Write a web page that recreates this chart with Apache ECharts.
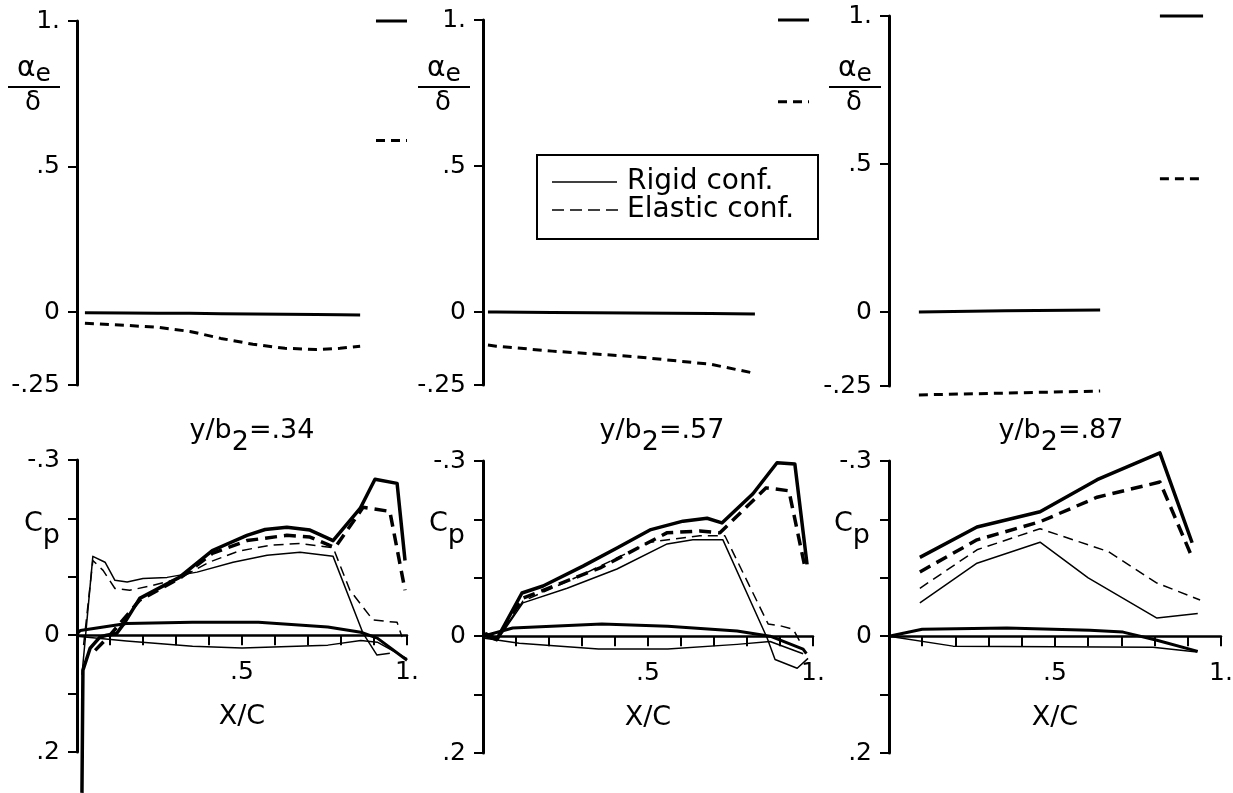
<!DOCTYPE html>
<html>
<head>
<meta charset="utf-8">
<title>alpha_e / delta and Cp at three span stations</title>
<script src="https://cdn.jsdelivr.net/npm/echarts@6/dist/echarts.min.js"></script>
<style>
  html, body { margin: 0; padding: 0; background: #fff; }
  #chart { width: 1233px; height: 793px; }
</style>
</head>
<body>
<div id="chart"></div>
<script>
// ---- tick values / labels ----
const alphaTicks = [-0.25, 0, 0.5, 1];
const alphaTickLabels = ["-.25", "0", ".5", "1."];
const cpTicks = [-0.3, -0.2, -0.1, 0, 0.1, 0.2];
const cpTickLabels = ["-.3", "", "", "0", "", ".2"];
const xcTicks = [0, 0.1, 0.2, 0.3, 0.4, 0.5, 0.6, 0.7, 0.8, 0.9, 1];
const xcLabelValues = [0.5, 1];
const xcLabels = [".5", "1."];
const stations = ["y/b2=.34", "y/b2=.57", "y/b2=.87"];

// ---- alpha_e / delta (upper panels) ----
const alphaX34 = [0.024, 0.148, 0.245, 0.342, 0.436, 0.533, 0.63, 0.724, 0.797, 0.858];
const alphaRigid34 = [-0.002, -0.003, -0.004, -0.004, -0.005, -0.006, -0.007, -0.008, -0.009, -0.01];
const alphaElastic34 = [-0.038, -0.045, -0.052, -0.066, -0.09, -0.11, -0.124, -0.128, -0.124, -0.117];
const flapX34 = [0.906, 1.0];
const flapRigid34 = [1, 1];
const flapElastic34 = [0.59, 0.59];

const alphaX57 = [0.015, 0.04, 0.21, 0.45, 0.69, 0.824];
const alphaRigid57 = [0, 0, -0.002, -0.003, -0.005, -0.007];
const alphaElastic57 = [-0.113, -0.117, -0.134, -0.152, -0.179, -0.21];
const flapX57 = [0.894, 0.988];
const flapRigid57 = [1, 1];
const flapElastic57 = [0.72, 0.72];

const alphaX87 = [0.09, 0.35, 0.636];
const alphaRigid87 = [0, 0.004, 0.007];
const alphaElastic87 = [-0.28, -0.274, -0.267];
const flapX87 = [0.816, 0.946];
const flapRigid87 = [1, 1];
const flapElastic87 = [0.45, 0.45];

// ---- Cp (lower panels), [x/c, Cp] ----
const cpThickRigid34 = [[0.015, 0.27], [0.018, 0.06], [0.04, 0.022], [0.07, 0.003], [0.09, 0], [0.12, -0.003], [0.145, -0.022], [0.19, -0.063], [0.31, -0.099], [0.41, -0.145], [0.515, -0.171], [0.57, -0.181], [0.636, -0.185], [0.706, -0.18], [0.776, -0.162], [0.858, -0.217], [0.903, -0.267], [0.97, -0.26], [0.994, -0.128]];
const cpThickElastic34 = [[0.055, 0.026], [0.1, 0], [0.19, -0.06], [0.31, -0.097], [0.41, -0.14], [0.515, -0.162], [0.636, -0.171], [0.706, -0.168], [0.782, -0.15], [0.867, -0.219], [0.948, -0.212], [0.994, -0.077]];
const cpThinRigid34 = [[0.015, 0.068], [0.048, -0.135], [0.085, -0.125], [0.115, -0.094], [0.152, -0.091], [0.2, -0.097], [0.273, -0.099], [0.364, -0.108], [0.473, -0.125], [0.576, -0.137], [0.676, -0.142], [0.776, -0.135], [0.867, -0.003], [0.909, 0.034], [0.948, 0.031]];
const cpThinElastic34 = [[0.02, 0.017], [0.048, -0.128], [0.079, -0.111], [0.115, -0.08], [0.16, -0.077], [0.22, -0.084], [0.31, -0.097], [0.4, -0.125], [0.49, -0.144], [0.585, -0.154], [0.676, -0.157], [0.776, -0.15], [0.827, -0.077], [0.897, -0.026], [0.97, -0.022], [0.985, 0.003]];
const foilUpper34 = [[0, -0.002], [0.01, -0.008], [0.15, -0.02], [0.35, -0.022], [0.55, -0.022], [0.76, -0.014], [0.86, -0.005], [0.91, 0.005], [1.0, 0.043]];
const foilLower34 = [[0, 0.002], [0.15, 0.01], [0.35, 0.019], [0.5, 0.022], [0.76, 0.017], [0.86, 0.009], [0.91, 0.012], [1.0, 0.04]];

const cpThickRigid57 = [[0.006, -0.005], [0.042, 0.005], [0.118, -0.074], [0.182, -0.086], [0.303, -0.12], [0.406, -0.151], [0.506, -0.182], [0.606, -0.197], [0.679, -0.202], [0.724, -0.194], [0.818, -0.244], [0.891, -0.297], [0.945, -0.295], [0.982, -0.123]];
const cpThickElastic57 = [[0.02, 0], [0.042, 0.005], [0.121, -0.065], [0.355, -0.117], [0.557, -0.177], [0.657, -0.18], [0.718, -0.177], [0.858, -0.254], [0.927, -0.249], [0.976, -0.117]];
const cpThinRigid57 = [[0.006, 0], [0.042, 0.008], [0.121, -0.057], [0.255, -0.082], [0.406, -0.115], [0.558, -0.158], [0.636, -0.165], [0.727, -0.165], [0.861, 0.003], [0.885, 0.04], [0.952, 0.055], [0.985, 0.038]];
const cpThinElastic57 = [[0.01, 0], [0.042, 0.006], [0.121, -0.06], [0.303, -0.106], [0.506, -0.161], [0.657, -0.172], [0.733, -0.172], [0.864, -0.021], [0.9, -0.018], [0.94, -0.012], [0.96, 0.009]];
const foilUpper57 = [[0, 0], [0.09, -0.014], [0.36, -0.021], [0.56, -0.017], [0.77, -0.009], [0.87, 0], [0.97, 0.022], [0.98, 0.03]];
const foilLower57 = [[0, 0.003], [0.11, 0.012], [0.35, 0.022], [0.56, 0.022], [0.77, 0.014], [0.87, 0.009], [0.97, 0.03]];

const cpThickRigid87 = [[0.093, -0.135], [0.265, -0.187], [0.455, -0.213], [0.627, -0.268], [0.816, -0.314], [0.913, -0.16]];
const cpThickElastic87 = [[0.093, -0.11], [0.265, -0.165], [0.455, -0.196], [0.627, -0.238], [0.816, -0.264], [0.913, -0.135]];
const cpThinRigid87 = [[0.093, -0.057], [0.265, -0.125], [0.455, -0.161], [0.6, -0.1], [0.807, -0.031], [0.93, -0.039]];
const cpThinElastic87 = [[0.093, -0.082], [0.265, -0.148], [0.455, -0.184], [0.66, -0.145], [0.807, -0.091], [0.937, -0.062]];
const foilUpper87 = [[0, 0], [0.1, -0.012], [0.355, -0.014], [0.605, -0.01], [0.705, -0.007], [0.807, 0.007], [0.93, 0.026]];
const foilLower87 = [[0, 0], [0.193, 0.017], [0.795, 0.019], [0.928, 0.027]];

const FONT = "DejaVu Sans";
const INK = "#000";

// 线型
const styles = {
  thickSolid: { width: 3.5, type: "solid" },
  thickDash: { width: 3.5, type: [12, 7] },
  thinSolid: { width: 1.5, type: "solid" },
  thinDash: { width: 1.5, type: [10, 6] },
  topSolid: { width: 3, type: "solid" },
  topDash: { width: 3, type: [9, 6] },
  foilUpper: { width: 3, type: "solid" },
  foilLower: { width: 1.5, type: "solid" },
};

function zip(xs, ys) {
  return xs.map((x, i) => [x, ys[i]]);
}

function pick(values, labels) {
  return function (v) {
    for (let i = 0; i < values.length; i++) {
      if (Math.abs(values[i] - v) < 1e-6) return labels[i];
    }
    return "";
  };
}

// 面板位置 (px)
const columns = [
  { left: 77, width: 330, topTop: 21, topBottom: 385, cpTop: 460, cpBottom: 752 },
  { left: 483, width: 330, topTop: 20, topBottom: 385, cpTop: 461, cpBottom: 753 },
  { left: 889, width: 332, topTop: 16, topBottom: 386, cpTop: 461, cpBottom: 753 },
];

const grids = [];
const xAxes = [];
const yAxes = [];
columns.forEach((c) => {
  grids.push({ left: c.left, top: c.topTop, width: c.width, height: c.topBottom - c.topTop, containLabel: false, outerBoundsMode: "none" });
  grids.push({ left: c.left, top: c.cpTop, width: c.width, height: c.cpBottom - c.cpTop, containLabel: false, outerBoundsMode: "none" });
});

const axisLabelStyle = { color: INK, fontSize: 25, fontFamily: FONT };

columns.forEach((c, i) => {
  // 从底边上移到 Cp = 0 的位置
  const h = c.cpBottom - c.cpTop;
  const zeroShift = -(h * 0.2 / 0.5);

  // upper panel
  xAxes.push({ gridIndex: 2 * i, type: "value", min: 0, max: 1, show: false });
  yAxes.push({
    gridIndex: 2 * i, type: "value", min: -0.25, max: 1,
    axisLine: { show: true, lineStyle: { color: INK, width: 3 } },
    axisTick: { show: true, length: 9, customValues: alphaTicks, lineStyle: { color: INK, width: 2 } },
    axisLabel: Object.assign({ customValues: alphaTicks, formatter: pick(alphaTicks, alphaTickLabels), margin: 17 }, axisLabelStyle),
    splitLine: { show: false },
  });
  // lower panel
  xAxes.push({
    gridIndex: 2 * i + 1, type: "value", min: 0, max: 1,
    position: "bottom", offset: zeroShift,
    axisLine: { show: true, onZero: false, lineStyle: { color: INK, width: 2.5 } },
    axisTick: { show: true, length: 10, customValues: xcTicks, lineStyle: { color: INK, width: 2 } },
    axisLabel: Object.assign({ customValues: xcLabelValues, formatter: pick(xcLabelValues, xcLabels), margin: 25 }, axisLabelStyle),
    splitLine: { show: false },
    name: "X/C", nameLocation: "middle", nameGap: 68,
    nameTextStyle: { color: INK, fontSize: 27, fontFamily: FONT },
  });
  yAxes.push({
    gridIndex: 2 * i + 1, type: "value", min: -0.3, max: 0.2, inverse: true,
    axisLine: { show: true, onZero: false, lineStyle: { color: INK, width: 3 } },
    axisTick: { show: true, length: 9, customValues: cpTicks, lineStyle: { color: INK, width: 2 } },
    axisLabel: Object.assign({ customValues: cpTicks, formatter: pick(cpTicks, cpTickLabels), margin: 17 }, axisLabelStyle),
    splitLine: { show: false },
  });
});

function line(axisIndex, data, kind) {
  return {
    type: "line",
    xAxisIndex: axisIndex,
    yAxisIndex: axisIndex,
    data: data,
    showSymbol: false,
    symbol: "none",
    clip: false,
    silent: true,
    lineStyle: Object.assign({ color: INK, cap: "butt", join: "round" }, styles[kind]),
  };
}

const series = [
  // y/b2 = .34
  line(0, zip(alphaX34, alphaRigid34), "topSolid"),
  line(0, zip(alphaX34, alphaElastic34), "topDash"),
  line(0, zip(flapX34, flapRigid34), "topSolid"),
  line(0, zip(flapX34, flapElastic34), "topDash"),
  line(1, cpThickRigid34, "thickSolid"),
  line(1, cpThickElastic34, "thickDash"),
  line(1, cpThinRigid34, "thinSolid"),
  line(1, cpThinElastic34, "thinDash"),
  line(1, foilUpper34, "foilUpper"),
  line(1, foilLower34, "foilLower"),
  // y/b2 = .57
  line(2, zip(alphaX57, alphaRigid57), "topSolid"),
  line(2, zip(alphaX57, alphaElastic57), "topDash"),
  line(2, zip(flapX57, flapRigid57), "topSolid"),
  line(2, zip(flapX57, flapElastic57), "topDash"),
  line(3, cpThickRigid57, "thickSolid"),
  line(3, cpThickElastic57, "thickDash"),
  line(3, cpThinRigid57, "thinSolid"),
  line(3, cpThinElastic57, "thinDash"),
  line(3, foilUpper57, "foilUpper"),
  line(3, foilLower57, "foilLower"),
  // y/b2 = .87
  line(4, zip(alphaX87, alphaRigid87), "topSolid"),
  line(4, zip(alphaX87, alphaElastic87), "topDash"),
  line(4, zip(flapX87, flapRigid87), "topSolid"),
  line(4, zip(flapX87, flapElastic87), "topDash"),
  line(5, cpThickRigid87, "thickSolid"),
  line(5, cpThickElastic87, "thickDash"),
  line(5, cpThinRigid87, "thinSolid"),
  line(5, cpThinElastic87, "thinDash"),
  line(5, foilUpper87, "foilUpper"),
  line(5, foilLower87, "foilLower"),
];

// 文字: 分数 αe/δ, Cp, 截面标题, 图例
const rich = {
  n: { fontSize: 27, fontFamily: FONT, color: INK, verticalAlign: "top", lineHeight: 28 },
  s: { fontSize: 27, fontFamily: FONT, color: INK, verticalAlign: "top", lineHeight: 28, padding: [12, 0, 0, 0] },
  a: { fontSize: 28, fontFamily: FONT, color: INK, verticalAlign: "top", lineHeight: 28 },
  se: { fontSize: 25, fontFamily: FONT, color: INK, verticalAlign: "top", lineHeight: 26, padding: [7, 0, 0, 0] },
};

const graphic = [];
const fracCenters = [34, 444, 855];
fracCenters.forEach((cx) => {
  graphic.push({ type: "text", x: cx, y: 55, style: { text: "{a|α}{se|e}", rich: rich, textAlign: "center" } });
  graphic.push({ type: "line", shape: { x1: cx - 26, y1: 87, x2: cx + 26, y2: 87 }, style: { stroke: INK, lineWidth: 2 } });
  graphic.push({ type: "text", x: cx - 1, y: 90, style: { text: "δ", font: "26px " + FONT, fill: INK, textAlign: "center" } });
});

const cpLabelRight = [60, 465, 870];
cpLabelRight.forEach((rx) => {
  graphic.push({ type: "text", x: rx, y: 510, style: { text: "{n|C}{s|p}", rich: rich, textAlign: "right" } });
});

const titleCenters = [252, 662, 1061];
stations.forEach((s, i) => {
  const parts = s.split("2");
  graphic.push({
    type: "text", x: titleCenters[i], y: 417,
    style: { text: "{n|" + parts[0] + "}{s|2}{n|" + parts[1] + "}", rich: rich, textAlign: "center" },
  });
});

// legend box
graphic.push({ type: "rect", shape: { x: 537, y: 155, width: 281, height: 84 }, style: { fill: "#fff", stroke: INK, lineWidth: 2 } });
graphic.push({ type: "line", shape: { x1: 552, y1: 182, x2: 617, y2: 182 }, style: { stroke: INK, lineWidth: 1.5 } });
graphic.push({ type: "line", shape: { x1: 552, y1: 210, x2: 619, y2: 210 }, style: { stroke: INK, lineWidth: 1.5, lineDash: [12, 6] } });
graphic.push({ type: "text", x: 627, y: 182, style: { text: "Rigid conf.", font: "28px " + FONT, fill: INK, textVerticalAlign: "middle" } });
graphic.push({ type: "text", x: 627, y: 210, style: { text: "Elastic conf.", font: "28px " + FONT, fill: INK, textVerticalAlign: "middle" } });

const chart = echarts.init(document.getElementById("chart"));
chart.setOption({
  backgroundColor: "#fff",
  animation: false,
  grid: grids,
  xAxis: xAxes,
  yAxis: yAxes,
  series: series,
  graphic: graphic,
});
</script>
</body>
</html>
